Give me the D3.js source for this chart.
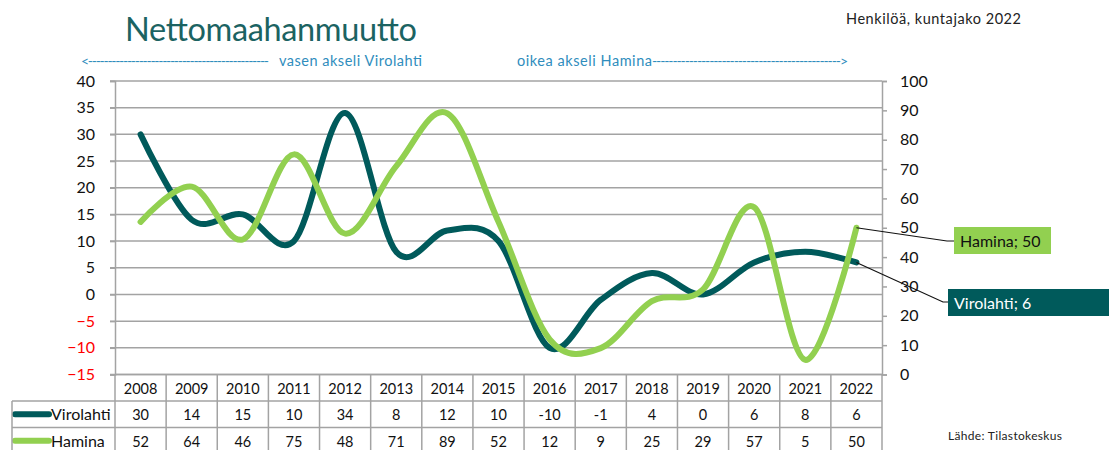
<!DOCTYPE html>
<html>
<head>
<meta charset="utf-8">
<script src="https://cdn.jsdelivr.net/npm/d3@7"></script>
<style>
    body { margin: 0; background: #fff; }
    svg { display: block; font-family: Lato, "Open Sans", sans-serif; }
</style>
</head>
<body>
<div id="chart"></div>
<script>
const years = [2008, 2009, 2010, 2011, 2012, 2013, 2014, 2015, 2016, 2017, 2018, 2019, 2020, 2021, 2022];
const virolahti = [30, 14, 15, 10, 34, 8, 12, 10, -10, -1, 4, 0, 6, 8, 6];
const hamina = [52, 64, 46, 75, 48, 71, 89, 52, 12, 9, 25, 29, 57, 5, 50];
const leftTicks = [-15, -10, -5, 0, 5, 10, 15, 20, 25, 30, 35, 40];
const rightTicks = [0, 10, 20, 30, 40, 50, 60, 70, 80, 90, 100];

const series = [
    { name: "Virolahti", values: virolahti, color: "#005a5b", axis: "left" },
    { name: "Hamina", values: hamina, color: "#92d050", axis: "right" }
];

const width = 1109;
const height = 450;
const plot = { left: 115, right: 882, top: 81, bottom: 374.5 };
const rowH = 26.5;
const gridColor = "#a3a3a3";
const noteColor = "#2f8dbd";

const svg = d3.select("#chart")
    .append("svg")
    .attr("width", width)
    .attr("height", height);

const x = d3.scaleBand().domain(years).range([plot.left, plot.right]);
const yLeft = d3.scaleLinear().domain([-15, 40]).range([plot.bottom, plot.top]);
const yRight = d3.scaleLinear().domain([0, 100]).range([plot.bottom, plot.top]);
const cx = d => x(d) + x.bandwidth() / 2;

// text helper, len fixes the width to the one in the picture
function note(px, py, size, color, str, len) {
    const t = svg.append("text")
        .attr("x", px)
        .attr("y", py)
        .attr("fill", color)
        .style("font-size", size + "px")
        .text(str);
    if (len) t.attr("textLength", len);
    return t;
}

//title and notes
note(125, 41, 32.5, "#1b6362", "Nettomaahanmuutto", 292);
note(846, 24, 14.5, "#222", "Henkilöä, kuntajako 2022", 175);
note(81, 66, 14, noteColor, "<" + "-".repeat(46), 188);
note(279, 66, 14.5, noteColor, "vasen akseli Virolahti", 143);
note(517, 66, 14.5, noteColor, "oikea akseli Hamina", 135);
note(652, 66, 14, noteColor, "-".repeat(46) + ">", 196);
note(948, 440, 12, "#222", "Lähde: Tilastokeskus", 114);

//gridlines
svg.append("g")
    .selectAll("line")
    .data(leftTicks)
    .enter()
    .append("line")
    .attr("x1", plot.left - 5)
    .attr("x2", plot.right)
    .attr("y1", d => yLeft(d))
    .attr("y2", d => yLeft(d))
    .attr("stroke", gridColor)
    .attr("stroke-width", 1.5);

//axes
const leftAxis = svg.append("g")
    .attr("transform", `translate(${plot.left}, 0)`)
    .call(d3.axisLeft(yLeft).tickValues(leftTicks).tickSize(5).tickPadding(15));

const rightAxis = svg.append("g")
    .attr("transform", `translate(${plot.right}, 0)`)
    .call(d3.axisRight(yRight).tickValues(rightTicks).tickSize(5).tickPadding(13));

[leftAxis, rightAxis].forEach(g => {
    g.select(".domain").attr("stroke", gridColor).attr("stroke-width", 1.5);
    g.selectAll(".tick line").attr("stroke", gridColor).attr("stroke-width", 1.5);
    g.selectAll(".tick text")
        .style("font-family", "Lato, sans-serif")
        .style("font-size", "16px")
        .attr("fill", "#111");
});
leftAxis.selectAll(".tick text").attr("fill", d => (d < 0 ? "#ff0000" : "#111"));

//lines
const line = yScale => d3.line()
    .x((d, i) => cx(years[i]))
    .y(d => yScale(d))
    .curve(d3.curveCardinal.tension(0));

series.forEach(s => {
    svg.append("path")
        .datum(s.values)
        .attr("d", line(s.axis === "left" ? yLeft : yRight))
        .attr("fill", "none")
        .attr("stroke", s.color)
        .attr("stroke-width", 6)
        .attr("stroke-linecap", "round");
});

//data labels for the last year
const last = years.length - 1;
const labels = [
    { s: series[1], y: yRight(hamina[last]), bx: 954, by: 227, bw: 97, elbow: [947, 241], text: "#111" },
    { s: series[0], y: yLeft(virolahti[last]), bx: 948, by: 289, bw: 170, elbow: [943, 302], text: "#fff" }
];

labels.forEach(l => {
    svg.append("polyline")
        .attr("points", [[cx(years[last]), l.y], l.elbow, [l.bx, l.elbow[1]]].join(" "))
        .attr("fill", "none")
        .attr("stroke", "#111")
        .attr("stroke-width", 1.2);
    svg.append("rect")
        .attr("x", l.bx)
        .attr("y", l.by)
        .attr("width", l.bw)
        .attr("height", 27)
        .attr("fill", l.s.color);
    svg.append("text")
        .attr("x", l.bx + 6)
        .attr("y", l.by + 19.5)
        .attr("fill", l.text)
        .style("font-size", "16px")
        .text(`${l.s.name}; ${l.s.values[last]}`);
});

//data table
const table = svg.append("g");
const rowTop = i => plot.bottom + i * rowH;

table.selectAll(".year")
    .data(years)
    .enter()
    .append("text")
    .attr("x", d => cx(d))
    .attr("y", rowTop(0) + 19)
    .attr("text-anchor", "middle")
    .attr("fill", "#111")
    .style("font-size", "14.5px")
    .text(d => d);

series.forEach((s, r) => {
    const top = rowTop(r + 1);
    table.append("line")
        .attr("x1", 15)
        .attr("x2", 49)
        .attr("y1", top + rowH / 2)
        .attr("y2", top + rowH / 2)
        .attr("stroke", s.color)
        .attr("stroke-width", 6)
        .attr("stroke-linecap", "round");
    table.append("text")
        .attr("x", 51)
        .attr("y", top + 19)
        .attr("fill", "#111")
        .style("font-size", "16px")
        .text(s.name);
    table.selectAll(null)
        .data(s.values)
        .enter()
        .append("text")
        .attr("x", (d, i) => cx(years[i]))
        .attr("y", top + 19)
        .attr("text-anchor", "middle")
        .attr("fill", "#111")
        .style("font-size", "14.5px")
        .text(d => d);
});

//table borders
const tableLeft = 12;
const hLines = [
    { x1: plot.left, y: rowTop(0) },
    { x1: tableLeft, y: rowTop(1) },
    { x1: tableLeft, y: rowTop(2) },
    { x1: tableLeft, y: rowTop(3) }
];
table.selectAll(".hline")
    .data(hLines)
    .enter()
    .append("line")
    .attr("x1", d => d.x1)
    .attr("x2", plot.right)
    .attr("y1", d => d.y)
    .attr("y2", d => d.y)
    .attr("stroke", gridColor)
    .attr("stroke-width", 1.5);

const colEdges = years.map(d => x(d)).concat([plot.right]);
table.selectAll(".vline")
    .data(colEdges)
    .enter()
    .append("line")
    .attr("x1", d => d)
    .attr("x2", d => d)
    .attr("y1", rowTop(0))
    .attr("y2", rowTop(3))
    .attr("stroke", gridColor)
    .attr("stroke-width", 1.5);

table.append("line")
    .attr("x1", tableLeft)
    .attr("x2", tableLeft)
    .attr("y1", rowTop(1))
    .attr("y2", rowTop(3))
    .attr("stroke", gridColor)
    .attr("stroke-width", 1.5);
</script>
</body>
</html>
